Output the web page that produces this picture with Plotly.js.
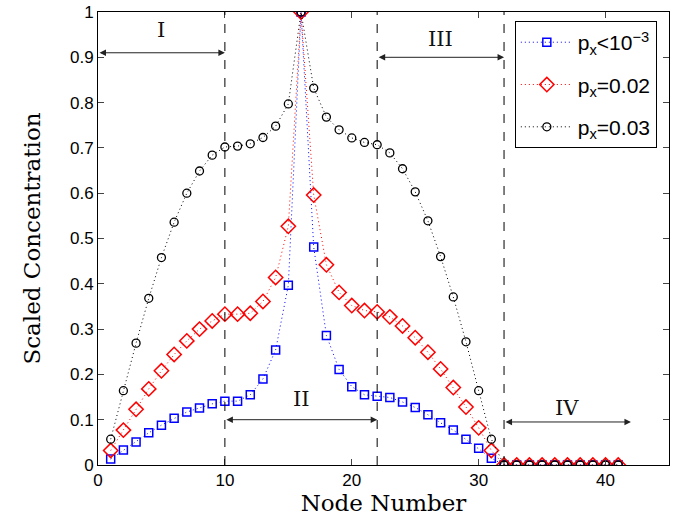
<!DOCTYPE html>
<html><head><meta charset="utf-8">
<script src="https://cdn.plot.ly/plotly-3.0.1.min.js"></script>
<style>body{margin:0;background:#fff}#plot{width:678px;height:526px}</style>
</head><body><div id="plot"></div>
<script>
const nodes = [1,2,3,4,5,6,7,8,9,10,11,12,13,14,15,16,17,18,19,20,21,22,23,24,25,26,27,28,29,30,31,32,33,34,35,36,37,38,39,40,41];
const lowPx = [0.013,0.033,0.051,0.071,0.088,0.103,0.117,0.126,0.135,0.141,0.141,0.155,0.190,0.254,0.397,1.0,0.481,0.286,0.211,0.173,0.155,0.152,0.149,0.139,0.127,0.111,0.093,0.077,0.057,0.037,0.015,0,0,0,0,0,0,0,0,0,0];
const px002 = [0.032,0.077,0.123,0.168,0.208,0.244,0.274,0.300,0.318,0.333,0.333,0.335,0.361,0.414,0.527,1.0,0.596,0.442,0.381,0.352,0.341,0.338,0.327,0.307,0.281,0.249,0.212,0.171,0.128,0.082,0.032,0,0,0,0,0,0,0,0,0,0];
const px003 = [0.057,0.164,0.269,0.368,0.458,0.536,0.600,0.649,0.684,0.702,0.704,0.709,0.723,0.748,0.797,1.0,0.832,0.768,0.740,0.722,0.712,0.707,0.689,0.654,0.603,0.539,0.460,0.371,0.272,0.164,0.057,0,0,0,0,0,0,0,0,0,0];
const seriesNames = ['p<sub>x</sub><10<sup>−3</sup>','p<sub>x</sub>=0.02','p<sub>x</sub>=0.03'];
const regionBounds = [0, 10, 22, 32, 42];
const regionLabels = ['I','II','III','IV'];
const regionArrowY = [0.91, 0.10, 0.90, 0.095];
const regionLabelY = [0.96, 0.145, 0.94, 0.125];
const xTicks = [0,10,20,30,40];
const yTicks = [0,0.1,0.2,0.3,0.4,0.5,0.6,0.7,0.8,0.9,1];

const dotted = '1px,3px';
const traces = [
  {x: nodes, y: lowPx, name: seriesNames[0], legendgroup:'g1', mode:'lines+markers',
   line:{color:'#0000ff', dash:dotted, width:1},
   marker:{symbol:'square-open', size:8, color:'#0000ff', line:{width:1.5}}},
  {x: nodes, y: px002, name: seriesNames[1], legendgroup:'g2', mode:'lines+markers',
   line:{color:'#ff0000', dash:dotted, width:1},
   marker:{symbol:'diamond-open', size:11, color:'#ff0000', line:{width:1.5}}},
  {x: nodes, y: px003, name: seriesNames[2], legendgroup:'g3', mode:'lines+markers',
   line:{color:'#000000', dash:dotted, width:1},
   marker:{symbol:'circle-open', size:8, color:'#000000', line:{width:1.3}}}
];

const shapes = [10,22,32].map(v => ({type:'line', xref:'x', yref:'y', x0:v, x1:v, y0:0, y1:1,
  line:{color:'#000', width:1, dash:'dash'}}));

const annotations = [];
for (let i=0;i<4;i++){
  annotations.push({xref:'x', yref:'y', axref:'x', ayref:'y',
    x: regionBounds[i+1], y: regionArrowY[i], ax: regionBounds[i], ay: regionArrowY[i],
    text:'', showarrow:true, arrowhead:2, arrowside:'end+start', arrowsize:1.3, arrowwidth:1, arrowcolor:'#222'});
  annotations.push({xref:'x', yref:'y', x:(regionBounds[i]+regionBounds[i+1])/2, y: regionLabelY[i],
    text: regionLabels[i], showarrow:false, font:{family:'DejaVu Serif, serif', size:21, color:'#111'}});
}

const layout = {
  width:678, height:526,
  margin:{l:98, r:9, t:12, b:61},
  paper_bgcolor:'#fff', plot_bgcolor:'#fff',
  font:{family:'Liberation Sans, Arial, sans-serif', size:17, color:'#000'},
  xaxis:{range:[0,45], tickvals:xTicks, ticks:'inside', ticklen:6, mirror:'ticks', showline:true,
    linecolor:'#000', linewidth:1, showgrid:false, zeroline:false,
    title:{text:'Node Number', font:{family:'DejaVu Serif, serif', size:23}, standoff:5}},
  yaxis:{range:[0,1], tickvals:yTicks, ticktext:yTicks.map(String), ticks:'inside', ticklen:6, mirror:'ticks', showline:true,
    linecolor:'#000', linewidth:1, showgrid:false, zeroline:false,
    title:{text:'Scaled Concentration', font:{family:'DejaVu Serif, serif', size:23}, standoff:22}},
  legend:{x:0.73, y:0.98, xanchor:'left', yanchor:'top', bordercolor:'#000', borderwidth:1,
    bgcolor:'#fff', font:{size:21}, tracegroupgap:12, itemwidth:52},
  shapes: shapes,
  annotations: annotations,
  showlegend:true
};
Plotly.newPlot('plot', traces, layout, {displayModeBar:false});
</script></body></html>
